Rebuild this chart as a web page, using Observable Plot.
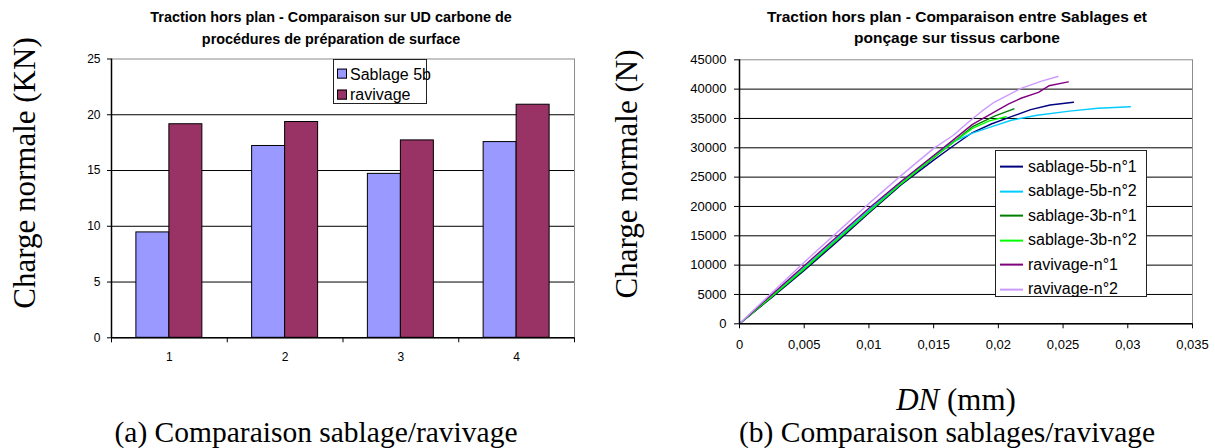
<!DOCTYPE html>
<html>
<head>
<meta charset="utf-8">
<script src="https://cdn.jsdelivr.net/npm/d3@7"></script>
<script src="https://cdn.jsdelivr.net/npm/@observablehq/plot@0.6"></script>
<style>
  html, body { margin: 0; padding: 0; background: #fff; }
  #page { position: relative; width: 1215px; height: 448px; background: #fff; overflow: hidden; }
  .abs { position: absolute; white-space: nowrap; line-height: 1; transform: translate(-50%, -50%); color: #000; }
  .title { font-family: "Liberation Sans", Arial, sans-serif; font-weight: bold; }
  .serif { font-family: "Liberation Serif", "Times New Roman", serif; }
  .legend { position: absolute; background: #fff; border: 1px solid #222; box-sizing: border-box;
            font-family: "Liberation Sans", Arial, sans-serif; color: #000; }
  .legend .row { position: absolute; left: 0; white-space: nowrap; line-height: 1; transform: translateY(-50%); }
  .chart { position: absolute; top: 0; }
</style>
</head>
<body>
<div id="page"></div>
<script>
// ---------- Data: left chart (bar) ----------
const categories = [1, 2, 3, 4];
const barSeries = ["Sablage 5b", "ravivage"];
const sablage5b = [9.45, 17.2, 14.7, 17.55];
const ravivageBars = [19.15, 19.35, 17.7, 20.9];
const barColors = ["#9999FF", "#993366"];
const yTicksLeft = [0, 5, 10, 15, 20, 25];

// ---------- Data: right chart (lines), [DN (mm), charge (N)] ----------
const lineSeries = ["sablage-5b-n°1", "sablage-5b-n°2", "sablage-3b-n°1", "sablage-3b-n°2", "ravivage-n°1", "ravivage-n°2"];
const lineColors = ["#000080", "#00CCFF", "#008000", "#00FF00", "#800080", "#CC99FF"];
const sablage5bN1 = [[0,0],[0.0025,4500],[0.005,9100],[0.0075,13900],[0.01,18900],[0.0125,23700],[0.015,27900],[0.0165,30300],[0.018,32600],[0.0195,34100],[0.021,35300],[0.0225,36500],[0.024,37300],[0.0258,37760]];
const sablage5bN2 = [[0,0],[0.0025,4800],[0.005,9600],[0.0075,14500],[0.01,19400],[0.0125,24200],[0.015,28600],[0.0165,31000],[0.018,32500],[0.0195,33600],[0.021,34700],[0.023,35550],[0.0255,36250],[0.0277,36740],[0.0302,37000]];
const sablage3bN1 = [[0,0],[0.0025,4600],[0.005,9300],[0.0075,14200],[0.01,19100],[0.0125,23900],[0.015,28300],[0.0165,30900],[0.018,33600],[0.0197,35400],[0.0212,36640]];
const sablage3bN2 = [[0,0],[0.0025,4700],[0.005,9400],[0.0075,14300],[0.01,19100],[0.0125,23900],[0.015,28400],[0.0165,30900],[0.018,33300],[0.0193,34600],[0.0206,35300]];
const ravivageN1 = [[0,0],[0.0025,5000],[0.005,9900],[0.0075,14800],[0.01,19700],[0.0125,24300],[0.015,28700],[0.0165,31300],[0.018,34000],[0.0192,35500],[0.0208,37480],[0.0218,38490],[0.0231,39440],[0.0239,40570],[0.0254,41240]];
const ravivageN2 = [[0,0],[0.0025,5300],[0.005,10500],[0.0075,15500],[0.01,20500],[0.0125,25300],[0.015,29900],[0.0165,32100],[0.0177,34400],[0.0187,36200],[0.0197,37800],[0.0218,40180],[0.0234,41410],[0.0246,42150]];
const lineValues = [sablage5bN1, sablage5bN2, sablage3bN1, sablage3bN2, ravivageN1, ravivageN2];
const xTicksRight = [0, 0.005, 0.01, 0.015, 0.02, 0.025, 0.03, 0.035];
const yTicksRight = [0, 5000, 10000, 15000, 20000, 25000, 30000, 35000, 40000, 45000];

const page = document.getElementById("page");
function addText(html, cx, cy, cls, size, extra) {
  const d = document.createElement("div");
  d.className = "abs " + cls;
  d.style.left = cx + "px";
  d.style.top = cy + "px";
  d.style.fontSize = size + "px";
  if (extra) d.style.transform = "translate(-50%, -50%) " + extra;
  d.innerHTML = html;
  page.appendChild(d);
}

// ---------- Left chart ----------
const barData = categories.flatMap((c, i) => [
  {cat: c, serie: barSeries[0], value: sablage5b[i], side: -1},
  {cat: c, serie: barSeries[1], value: ravivageBars[i], side: 1}
]);
const barW = 0.285;
const left = Plot.plot({
  width: 600, height: 380,
  marginLeft: 111, marginRight: 26, marginTop: 58.5, marginBottom: 42.7,
  style: {fontFamily: "'Liberation Sans', Arial, sans-serif", fontSize: "12px", color: "#000", background: "transparent", overflow: "visible"},
  x: {domain: [0.5, 4.5], axis: null},
  y: {domain: [0, 25], axis: null},
  color: {domain: barSeries, range: barColors},
  marks: [
    Plot.ruleY(yTicksLeft.slice(1, -1), {stroke: "#000", strokeWidth: 1}),
    Plot.frame({stroke: "#8c8c8c"}),
    Plot.rect(barData, {
      x1: d => d.side < 0 ? d.cat - barW : d.cat,
      x2: d => d.side < 0 ? d.cat : d.cat + barW,
      y1: () => 0, y2: "value",
      fill: "serie", stroke: "#000", strokeWidth: 1
    }),
    Plot.ruleY([0], {stroke: "#000", strokeWidth: 1.5}),
    Plot.ruleX([0.5], {stroke: "#000", strokeWidth: 1.5}),
    Plot.axisY({ticks: yTicksLeft, tickSize: 4, tickPadding: 7, tickFormat: d => String(d), label: null, fontSize: 12}),
    Plot.axisX({ticks: d3.range(0.5, 5, 1), tickSize: 5, tickFormat: () => "", label: null}),
    Plot.axisX({ticks: categories, tickSize: 0, tickPadding: 15, tickFormat: d => String(d), label: null, fontSize: 12})
  ]
});
left.classList.add("chart");
left.style.left = "0px";
page.appendChild(left);

// ---------- Right chart ----------
const lineData = lineSeries.flatMap((name, i) => lineValues[i].map(([x, y]) => ({name, x, y})));
const fmtX = d => d === 0 ? "0" : String(+d.toFixed(3)).replace(".", ",");
const right = Plot.plot({
  width: 615, height: 380,
  marginLeft: 139, marginRight: 23, marginTop: 59.3, marginBottom: 56.7,
  style: {fontFamily: "'Liberation Sans', Arial, sans-serif", fontSize: "13px", color: "#000", background: "transparent", overflow: "visible"},
  x: {domain: [0, 0.035], axis: null},
  y: {domain: [0, 45000], axis: null},
  color: {domain: lineSeries, range: lineColors},
  marks: [
    Plot.ruleY(yTicksRight.slice(1, -1), {stroke: "#000", strokeWidth: 1}),
    Plot.frame({stroke: "#8c8c8c"}),
    Plot.line(lineData, {x: "x", y: "y", z: "name", stroke: "name", strokeWidth: 1.4}),
    Plot.ruleY([0], {stroke: "#000", strokeWidth: 1.5}),
    Plot.ruleX([0], {stroke: "#000", strokeWidth: 1.5}),
    Plot.axisY({ticks: yTicksRight, tickSize: 5, tickPadding: 8, tickFormat: d => String(d), label: null, fontSize: 13}),
    Plot.axisX({ticks: xTicksRight, tickSize: 5, tickPadding: 11, tickFormat: fmtX, label: null, fontSize: 13})
  ]
});
right.classList.add("chart");
right.style.left = "600px";
page.appendChild(right);

// ---------- Titles ----------
addText("Traction hors plan - Comparaison sur UD carbone de", 331, 17, "title", 14.4);
addText("procédures de préparation de surface", 331, 38.5, "title", 14.4);
addText("Traction hors plan - Comparaison entre Sablages et", 957, 17, "title", 15.5);
addText("ponçage sur tissus carbone", 957, 38, "title", 15.5);

// ---------- Axis titles & captions ----------
addText("Charge normale (KN)", 24, 173, "serif", 31, "rotate(-90deg)");
addText("Charge normale (N)", 626, 174, "serif", 31, "rotate(-90deg)");
addText("<i>DN</i> (mm)", 956, 399, "serif", 31);
addText("(a) Comparaison sablage/ravivage", 316, 433, "serif", 29.5);
addText("(b) Comparaison sablages/ravivage", 947, 433, "serif", 29.5);

// ---------- Legends ----------
function legend(x, y, w, h, fontSize, names, colors, rowYs, kind) {
  const box = document.createElement("div");
  box.className = "legend";
  Object.assign(box.style, {left: x + "px", top: y + "px", width: w + "px", height: h + "px", fontSize: fontSize + "px"});
  names.forEach((n, i) => {
    const r = document.createElement("div");
    r.className = "row";
    r.style.top = (rowYs[i] - y) + "px";
    if (kind === "box") {
      r.innerHTML = `<span style="display:inline-block;width:8px;height:8px;background:${colors[i]};border:1px solid #000;margin:0 3px 0 3px;vertical-align:middle;position:relative;top:-1px"></span><span style="vertical-align:middle">${n}</span>`;
    } else {
      r.innerHTML = `<span style="display:inline-block;width:23px;height:0;border-top:2px solid ${colors[i]};margin:0 5px 0 4px;vertical-align:middle"></span><span style="vertical-align:middle">${n}</span>`;
    }
    box.appendChild(r);
  });
  page.appendChild(box);
}
legend(333, 59, 94, 45, 16, barSeries, barColors, [73.5, 94], "box");
legend(995, 150, 152, 147, 16, lineSeries, lineColors, [165.7, 190.2, 214.7, 239.2, 263.7, 288.2], "line");
</script>
</body>
</html>
